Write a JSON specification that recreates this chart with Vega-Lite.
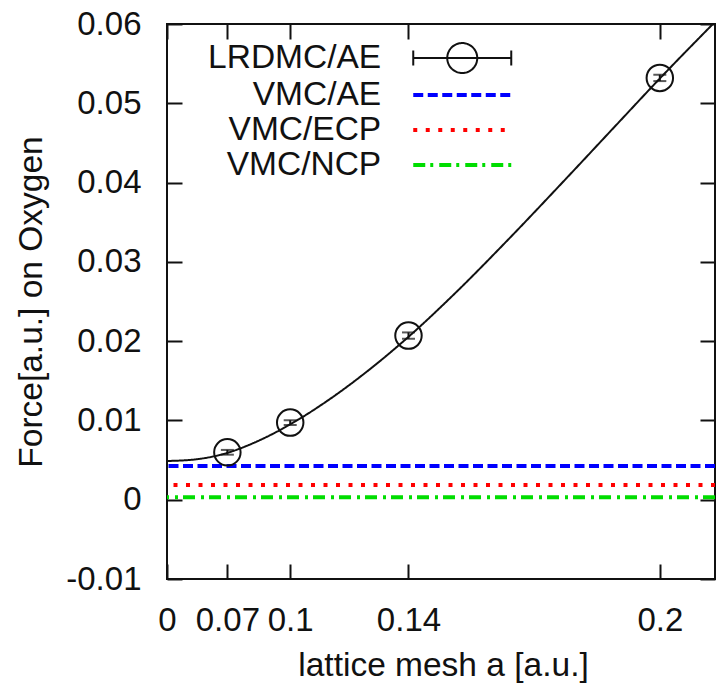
{
  "$schema": "https://vega.github.io/schema/vega-lite/v6.json",
  "width": 548,
  "height": 555,
  "autosize": {"type": "none"},
  "padding": {"left": 167, "top": 24, "right": 1, "bottom": 106},
  "background": "white",
  "config": {
    "font": "Liberation Sans",
    "view": {"stroke": "#111", "strokeWidth": 2},
    "axis": {
      "labelFont": "Liberation Sans",
      "titleFont": "Liberation Sans",
      "labelFontSize": 33,
      "titleFontSize": 33.5,
      "labelColor": "#111",
      "titleColor": "#111",
      "titleFontWeight": "normal",
      "tickColor": "#111",
      "tickWidth": 2,
      "tickSize": -15,
      "domain": false,
      "grid": false,
      "labelOverlap": false,
      "labelFlush": false
    }
  },
  "datasets": {
    "fit": [
      {"series": "LRDMC/AE", "a": 0.0, "F": 0.00488},
      {"series": "LRDMC/AE", "a": 0.0493, "F": 0.00511},
      {"series": "LRDMC/AE", "a": 0.0698, "F": 0.0059},
      {"series": "LRDMC/AE", "a": 0.0854, "F": 0.00734},
      {"series": "LRDMC/AE", "a": 0.1007, "F": 0.00963},
      {"series": "LRDMC/AE", "a": 0.1139, "F": 0.01243},
      {"series": "LRDMC/AE", "a": 0.1274, "F": 0.01617},
      {"series": "LRDMC/AE", "a": 0.1403, "F": 0.02066},
      {"series": "LRDMC/AE", "a": 0.1533, "F": 0.02622},
      {"series": "LRDMC/AE", "a": 0.166, "F": 0.03259},
      {"series": "LRDMC/AE", "a": 0.1801, "F": 0.04057},
      {"series": "LRDMC/AE", "a": 0.191, "F": 0.04729},
      {"series": "LRDMC/AE", "a": 0.2001, "F": 0.05319},
      {"series": "LRDMC/AE", "a": 0.2108, "F": 0.0602}
    ],
    "pts": [
      {"a": 0.07, "F": 0.00598, "err": 0.0003},
      {"a": 0.1, "F": 0.00973, "err": 0.0003},
      {"a": 0.14, "F": 0.0207, "err": 0.0004},
      {"a": 0.2, "F": 0.0532, "err": 0.0004}
    ],
    "lev": [
      {"series": "VMC/AE", "F": 0.00425},
      {"series": "VMC/ECP", "F": 0.00185},
      {"series": "VMC/NCP", "F": 0.0003}
    ]
  },
  "layer": [
    {
      "data": {"name": "fit"},
      "mark": {"type": "line", "interpolate": "monotone", "clip": true, "strokeWidth": 2},
      "encoding": {
        "x": {
          "field": "a", "type": "quantitative",
          "scale": {"type": "pow", "exponent": 2, "domain": [0, 0.2109], "nice": false},
          "axis": {
            "orient": "bottom",
            "values": [0, 0.07, 0.1, 0.14, 0.2],
            "format": "~g",
            "labelPadding": 40,
            "title": "lattice mesh a [a.u.]",
            "titleX": 276,
            "titleY": 86,
            "titleAlign": "center",
            "titleBaseline": "middle"
          }
        },
        "y": {
          "field": "F", "type": "quantitative",
          "scale": {"domain": [-0.01, 0.06], "nice": false, "zero": false},
          "axis": {
            "orient": "left",
            "values": [-0.01, 0, 0.01, 0.02, 0.03, 0.04, 0.05, 0.06],
            "labelExpr": "replace(format(datum.value, '~g'), '−', '-')",
            "labelPadding": 41,
            "title": "Force[a.u.] on Oxygen",
            "titleX": -136,
            "titleY": 277.5,
            "titleAngle": -90,
            "titleAlign": "center",
            "titleBaseline": "middle"
          }
        },
        "color": {
          "field": "series", "type": "nominal",
          "scale": {"domain": ["LRDMC/AE", "VMC/AE", "VMC/ECP", "VMC/NCP"], "range": ["#111111", "#0000ff", "#ff0000", "#00dd00"]},
          "legend": {
            "orient": "none",
            "legendX": 278.5,
            "legendY": 17.3,
            "title": null,
            "padding": 0,
            "labelFont": "Liberation Sans",
            "labelFontSize": 33.5,
            "labelColor": "#111",
            "labelAlign": "right",
            "labelOffset": -97.8,
            "labelLimit": 0,
            "symbolSize": 4,
            "rowPadding": 0,
            "encode": {
              "symbols": {
                "update": {
                  "shape": {"signal": "datum.value === 'LRDMC/AE' ? 'M-49,0H49M-49,-7.5V7.5M49,-7.5V7.5M-15,0A15,15,0,1,0,15,0A15,15,0,1,0,-15,0' : 'M-49,0H49'"},
                  "strokeDash": {"signal": "datum.value === 'VMC/AE' ? [10,4.5] : datum.value === 'VMC/ECP' ? [4,8.5] : datum.value === 'VMC/NCP' ? [12,5,3,6] : [1,0]"},
                  "strokeWidth": {"signal": "datum.value === 'LRDMC/AE' ? 2 : 4"},
                  "fill": {"value": "transparent"},
                  "size": {"value": 4},
                  "opacity": {"value": 1}
                }
              }
            }
          }
        },
        "strokeDash": {
          "field": "series", "type": "nominal",
          "scale": {"domain": ["LRDMC/AE", "VMC/AE", "VMC/ECP", "VMC/NCP"], "range": [[1, 0], [10, 4.5], [4, 8.5], [12, 5, 3, 6]]},
          "legend": null
        }
      }
    },
    {
      "data": {"name": "lev"},
      "mark": {"type": "rule", "strokeWidth": 4},
      "encoding": {
        "y": {
          "field": "F", "type": "quantitative",
          "axis": {"orient": "right", "values": [-0.01, 0, 0.01, 0.02, 0.03, 0.04, 0.05, 0.06], "labels": false, "title": null}
        },
        "color": {"field": "series", "type": "nominal"},
        "strokeDash": {"field": "series", "type": "nominal", "legend": null}
      }
    },
    {
      "data": {"name": "pts"},
      "mark": {"type": "errorbar", "ticks": {"size": 13}, "thickness": 2, "color": "#111"},
      "encoding": {
        "x": {"field": "a", "type": "quantitative", "axis": null},
        "y": {"field": "F", "type": "quantitative", "axis": null},
        "yError": {"field": "err"}
      }
    },
    {
      "data": {"name": "pts"},
      "mark": {"type": "point", "shape": "circle", "size": 700, "filled": false, "strokeWidth": 2, "color": "#111", "opacity": 1},
      "encoding": {
        "x": {
          "field": "a", "type": "quantitative",
          "axis": {"orient": "top", "values": [0, 0.07, 0.1, 0.14, 0.2], "labels": false, "title": null}
        },
        "y": {"field": "F", "type": "quantitative", "axis": null}
      }
    }
  ],
  "resolve": {"axis": {"x": "independent", "y": "independent"}}
}
